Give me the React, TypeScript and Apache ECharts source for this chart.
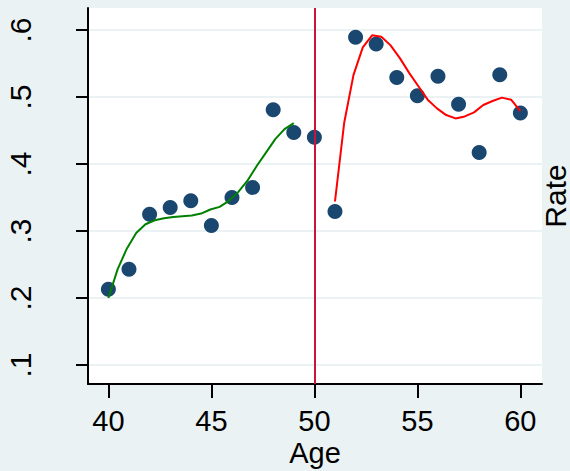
import React, { useEffect, useRef } from "react";
import * as echarts from "echarts";

const ages = [40, 41, 42, 43, 44, 45, 46, 47, 48, 49, 50, 51, 52, 53, 54, 55, 56, 57, 58, 59, 60];
const rates = [0.213, 0.243, 0.325, 0.335, 0.345, 0.308, 0.35, 0.365, 0.481, 0.447, 0.44, 0.329, 0.589, 0.579, 0.529, 0.502, 0.531, 0.489, 0.417, 0.533, 0.476];

const leftFitAge = [40, 40.45, 40.9, 41.35, 41.8, 42.25, 42.7, 43.15, 43.6, 44.05, 44.5, 44.95, 45.4, 45.85, 46.3, 46.75, 47.2, 47.65, 48.1, 48.55, 49.0];
const leftFitRate = [0.2, 0.243, 0.274, 0.297, 0.31, 0.316, 0.319, 0.321, 0.322, 0.323, 0.326, 0.332, 0.336, 0.345, 0.358, 0.375, 0.397, 0.417, 0.437, 0.452, 0.461];

const rightFitAge = [51, 51.45, 51.9, 52.35, 52.8, 53.25, 53.7, 54.15, 54.6, 55.05, 55.5, 55.95, 56.4, 56.85, 57.3, 57.75, 58.2, 58.65, 59.1, 59.55, 60];
const rightFitRate = [0.344, 0.462, 0.533, 0.574, 0.592, 0.59, 0.577, 0.558, 0.536, 0.516, 0.496, 0.483, 0.473, 0.468, 0.471, 0.477, 0.488, 0.494, 0.499, 0.496, 0.479];

const cutoffAge = 50;
const xTicks = [40, 45, 50, 55, 60];
const yTicks = [0.1, 0.2, 0.3, 0.4, 0.5, 0.6];
const yTickLabels = [".1", ".2", ".3", ".4", ".5", ".6"];

const FONT = "'Liberation Sans', Arial, sans-serif";

export default function App() {
  const ref = useRef<HTMLDivElement>(null);
  useEffect(() => {
    document.body.style.margin = "0";
    const chart = echarts.init(ref.current!, null, { renderer: "svg" });
    chart.setOption({
      animation: false,
      backgroundColor: "#eaf2f3",
      textStyle: { fontFamily: FONT },
      grid: {
        left: 88,
        right: 28,
        top: 8,
        bottom: 87,
        containLabel: false,
        outerBoundsMode: "none",
        show: true,
        backgroundColor: "#ffffff",
        borderWidth: 0,
      },
      xAxis: {
        type: "value",
        min: 39.01,
        max: 61.05,
        name: "Age",
        nameLocation: "middle",
        nameGap: 56,
        nameMoveOverlap: false,
        nameTextStyle: { fontSize: 29, lineHeight: 26, color: "#000", fontFamily: FONT, verticalAlign: "top" },
        axisLine: { show: true, onZero: false, lineStyle: { color: "#000", width: 2 } },
        axisTick: { show: true, length: 14, customValues: xTicks, lineStyle: { color: "#000", width: 2 } },
        axisLabel: { customValues: xTicks, fontSize: 29, lineHeight: 26, color: "#000", margin: 24, fontFamily: FONT },
        splitLine: { show: false },
      },
      yAxis: {
        type: "value",
        min: 0.0716,
        max: 0.6328,
        axisLine: { show: true, lineStyle: { color: "#000", width: 2 } },
        axisTick: { show: true, length: 12, customValues: yTicks, lineStyle: { color: "#000", width: 2 } },
        axisLabel: {
          customValues: yTicks,
          rotate: 90,
          fontSize: 30,
          color: "#000",
          margin: 53,
          fontFamily: FONT,
          formatter: (v: number) => {
            const i = yTicks.findIndex((t) => Math.abs(t - v) < 1e-6);
            return i >= 0 ? yTickLabels[i] : "";
          },
        },
        splitLine: { show: true, lineStyle: { color: "#eaf2f3", width: 2 } },
      },
      graphic: [
        {
          type: "text",
          x: 555,
          y: 196,
          rotation: Math.PI / 2,
          style: {
            text: "Rate",
            fontSize: 30,
            fontFamily: FONT,
            fill: "#000",
            textAlign: "center",
            align: "center",
            textVerticalAlign: "middle",
            verticalAlign: "middle",
          },
        },
      ],
      series: [
        {
          type: "line",
          data: [],
          z: 1,
          markLine: {
            silent: true,
            symbol: "none",
            label: { show: false },
            lineStyle: { color: "#c8143f", width: 2, type: "solid" },
            data: [{ xAxis: cutoffAge }],
          },
        },
        {
          type: "scatter",
          data: ages.map((a, i) => [a, rates[i]]),
          symbolSize: 15,
          itemStyle: { color: "#1a476f", opacity: 1 },
          z: 2,
        },
        {
          type: "line",
          data: leftFitAge.map((a, i) => [a, leftFitRate[i]]),
          showSymbol: false,
          symbol: "none",
          lineStyle: { color: "#008000", width: 2 },
          z: 3,
        },
        {
          type: "line",
          data: rightFitAge.map((a, i) => [a, rightFitRate[i]]),
          showSymbol: false,
          symbol: "none",
          lineStyle: { color: "#ff0000", width: 2 },
          z: 3,
        },
      ],
    });
    return () => chart.dispose();
  }, []);
  return <div ref={ref} style={{ width: 570, height: 471 }} />;
}
